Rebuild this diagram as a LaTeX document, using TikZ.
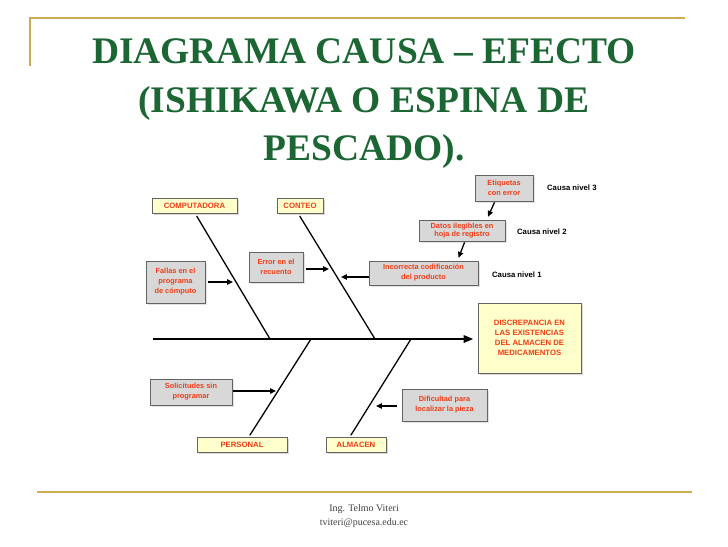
\documentclass[tikz,border=0pt]{standalone}
\usepackage{fontspec}
\setmainfont{Liberation Serif}
\setsansfont{Liberation Sans}
\usepackage{xcolor}
\usepackage{tikz}
\usetikzlibrary{arrows.meta, positioning, calc, shadows}
\definecolor{titlegreen}{RGB}{28,102,52}
\definecolor{goldline} {RGB}{205,172,82}
\definecolor{causered} {RGB}{240,60,20}
\definecolor{labelfill}{RGB}{255,255,204}
\definecolor{causefill}{RGB}{216,216,216}
\definecolor{boxedge}  {RGB}{100,100,100}

\begin{document}
\begin{tikzpicture}[
  x=0.03cm, y=-0.03cm,
  bonelabel/.style={
    rectangle, draw=boxedge, fill=labelfill, thin,
    drop shadow={shadow xshift=2pt, shadow yshift=-2pt, fill=gray!60},
    minimum height=0.45cm, inner sep=1pt,
    font=\sffamily\bfseries\fontsize{6.6}{7}\selectfont, text=causered},
  causebox/.style={
    rectangle, draw=boxedge, fill=causefill, thin,
    drop shadow={shadow xshift=2pt, shadow yshift=-2pt, fill=gray!45},
    align=center, inner sep=1pt,
    font=\sffamily\bfseries\fontsize{6.3}{8.6}\selectfont, text=causered},
  bone/.style={line width=1.1pt, black, line cap=round},
  arr/.style={-{Triangle[length=5pt,width=4.5pt]}, line width=1.1pt, black},
  lvl/.style={anchor=west, font=\sffamily\bfseries\fontsize{6.6}{7}\selectfont},
  title/.style={anchor=base, text=titlegreen,
    font=\bfseries\fontsize{32}{38}\selectfont}
]
  \useasboundingbox (0,0) rectangle (728,546);
  % Slide frame
  \draw[goldline, line width=1pt] (30,66) -- (30,18) -- (685,18);
  \draw[goldline, line width=1.2pt] (37,492) -- (692,492);
  % Title
  \node[title] (T1) at (364,63)  {DIAGRAMA CAUSA -- EFECTO};
  \node[title] (T2) at (364,112) {(ISHIKAWA O ESPINA DE};
  \node[title] (T3) at (364,160) {PESCADO).};
  % Footer
  \node[align=center, text=black!75, font=\fontsize{8.5}{12}\selectfont]
    (foot) at (364,516) {Ing. Telmo Viteri\\tviteri@pucesa.edu.ec};
  % Effect
  \node[bonelabel, minimum width=3.09cm, minimum height=2.1cm,
    align=center, font=\sffamily\bfseries\fontsize{6.6}{8.6}\selectfont]
    (E) at (529.5,338)
    {DISCREPANCIA EN\\LAS EXISTENCIAS\\DEL ALMACEN DE\\MEDICAMENTOS};
  % Main categories
  \node[bonelabel, minimum width=2.55cm] (C1) at (194.5,205.5) {COMPUTADORA};
  \node[bonelabel, minimum width=1.38cm] (C2) at (300,205.5)   {CONTEO};
  \node[bonelabel, minimum width=2.70cm] (C3) at (242,444.5)   {PERSONAL};
  \node[bonelabel, minimum width=1.80cm] (C4) at (356,444.5)   {ALMACEN};
  % Causes
  \node[causebox, minimum width=1.77cm, minimum height=1.26cm] (F1)
    at (175.5,282) {Fallas en el\\programa\\de cómputo};
  \node[causebox, minimum width=1.62cm, minimum height=0.90cm] (F2)
    at (276,267) {Error en el\\recuento};
  \node[causebox, minimum width=3.27cm, minimum height=0.72cm] (F3)
    at (423.5,273) {Incorrecta codificación\\del producto};
  \node[causebox, minimum width=2.58cm, minimum height=0.63cm,
    font=\sffamily\bfseries\fontsize{6.3}{7.3}\selectfont] (F4)
    at (462,230.5) {Datos ilegibles en\\hoja de registro};
  \node[causebox, minimum width=1.74cm, minimum height=0.78cm] (F5)
    at (504,188) {Etiquetas\\con error};
  \node[causebox, minimum width=2.46cm, minimum height=0.78cm] (F6)
    at (191,392) {Solicitudes sin\\programar};
  \node[causebox, minimum width=2.55cm, minimum height=0.96cm] (F7)
    at (444.5,405) {Dificultad para\\localizar la pieza};
  % Levels
  \node[lvl] (L3) at (543,188) {Causa nivel 3};
  \node[lvl] (L2) at (513,232) {Causa nivel 2};
  \node[lvl] (L1) at (488,275) {Causa nivel 1};
  % Spine and bones
  \coordinate (tail) at (153,339);
  \coordinate (B1) at (270,339);
  \coordinate (B2) at (375,339);
  \coordinate (B3) at (311,339);
  \coordinate (B4) at (411,339);
  \coordinate (P3) at (250,435);
  \coordinate (P4) at (351,435);
  \draw[line width=1.1pt, -{Triangle[length=8pt,width=6.5pt]},
    shorten >=4pt] (tail) -- (E.west |- tail);
  \draw[bone, shorten <=3pt] ($(C1.south)+(0.5,0)$) -- (B1);
  \draw[bone, shorten <=3pt] ($(C2.south)+(-2,0)$) -- (B2);
  \draw[bone] (B3) -- (P3);
  \draw[bone] (B4) -- (P4);
  % Arrows
  \coordinate (a1) at (233,282);
  \coordinate (a2) at (329,269);
  \coordinate (a3) at (341,277);
  \coordinate (a6) at (276,391);
  \coordinate (a7) at (376,406);
  \draw[arr, shorten <=2pt] (F1.east |- a1) -- (a1);
  \draw[arr, shorten <=2pt] (F2.east |- a2) -- (a2);
  \draw[arr] (F3.west |- a3) -- (a3);
  \draw[arr, shorten <=1pt] (F6.east |- a6) -- (a6);
  \draw[arr, shorten <=4pt] (F7.west |- a7) -- (a7);
  \draw[arr, shorten <=1pt] ($(F4.south)+(3,0)$) -- ($(F3.north)+(35,-3)$);
  \draw[arr, shorten <=1pt] ($(F5.south)+(-9,0)$) -- ($(F4.north)+(26,-3)$);
\end{tikzpicture}
\end{document}
